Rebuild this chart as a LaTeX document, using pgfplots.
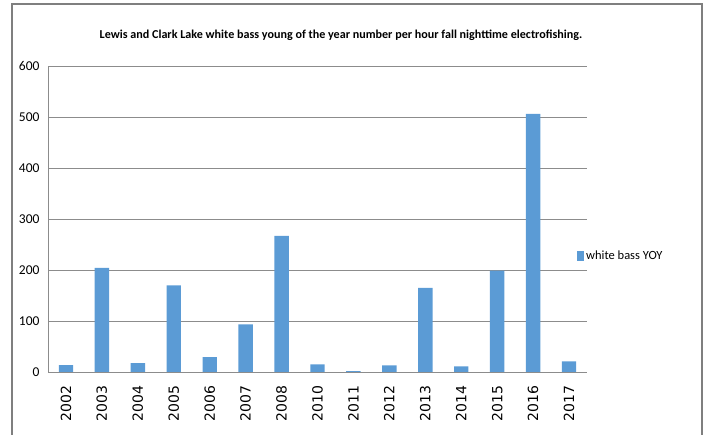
\documentclass[border=0pt]{standalone}
\usepackage{fontspec}
\setmainfont{Carlito}
\newfontfamily\dejavu{DejaVu Sans}
\usepackage{pgfplots}
\pgfplotsset{compat=1.18}
\definecolor{barblue}{HTML}{5B9BD5}
\definecolor{gridgray}{HTML}{8C8C8C}
\definecolor{framegray}{HTML}{7F7F7F}
\newcommand\xl[1]{{\dejavu\fontsize{14}{15}\selectfont #1}}
\pgfplotstableread{
x year val
0 2002 13.5
1 2003 204
2 2004 17.5
3 2005 170
4 2006 29
5 2007 93.5
6 2008 267
7 2010 15
8 2011 1.5
9 2012 13
10 2013 165
11 2014 11
12 2015 199
13 2016 506
14 2017 21
}\datatable
\begin{document}
\begin{tikzpicture}[x=1pt,y=1pt]
\useasboundingbox (0,0) rectangle (706,435);
\draw[framegray, line width=1.3pt] (12,0)--(12,431)--(702,431)--(702,0);
\node[font=\bfseries\fontsize{12.1}{14}\selectfont] at (341,400) {Lewis and Clark Lake white bass young of the year number per hour fall nighttime electrofishing.};
\begin{axis}[
  at={(48pt,63pt)}, anchor=south west,
  scale only axis, width=539pt, height=306pt,
  xmin=-0.5, xmax=14.5, ymin=0, ymax=600,
  ytick={0,100,...,600},
  xtick={0,...,14},
  xticklabels={\xl{2002},\xl{2003},\xl{2004},\xl{2005},\xl{2006},\xl{2007},\xl{2008},\xl{2010},\xl{2011},\xl{2012},\xl{2013},\xl{2014},\xl{2015},\xl{2016},\xl{2017}},
  xticklabel style={rotate=90, anchor=east, xshift=-10pt},
  yticklabel style={font=\fontsize{13.5}{14}\selectfont, xshift=-5pt},
  /pgf/number format/assume math mode=true,
  major tick length=0pt,
  ymajorgrids, grid style={gridgray, line width=0.8pt},
  axis x line*=bottom, axis y line*=left,
  axis line style={gridgray, line width=0.8pt},
  ybar, bar width=14.4pt,
  legend style={draw=none, fill=none, at={(0.975,0.379)}, anchor=west, font=\fontsize{12.5}{13}\selectfont},
  legend image code/.code={\fill[barblue] (0pt,-5pt) rectangle (7.5pt,5pt);},
]
\addplot[fill=barblue, draw=none] table[x=x, y=val] {\datatable};
\addlegendentry{white bass YOY}
\end{axis}
\end{tikzpicture}
\end{document}
